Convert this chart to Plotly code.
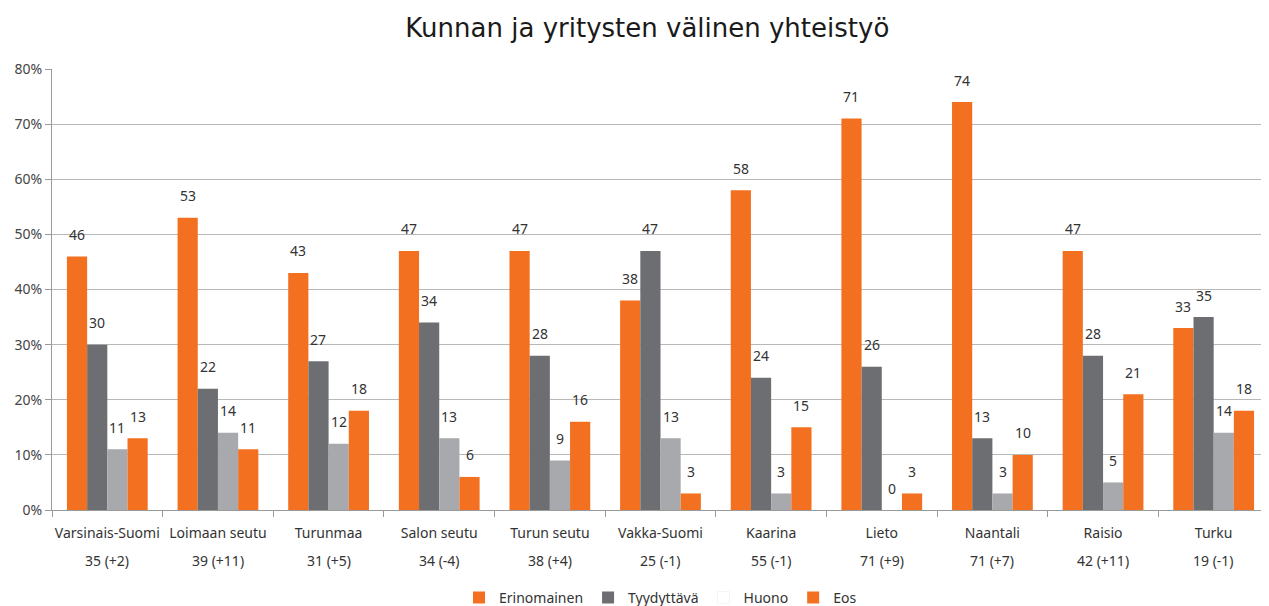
import plotly.graph_objects as go

categories = ["Varsinais-Suomi", "Loimaan seutu", "Turunmaa", "Salon seutu", "Turun seutu",
              "Vakka-Suomi", "Kaarina", "Lieto", "Naantali", "Raisio", "Turku"]
subtitles = ["35 (+2)", "39 (+11)", "31 (+5)", "34 (-4)", "38 (+4)", "25 (-1)",
             "55 (-1)", "71 (+9)", "71 (+7)", "42 (+11)", "19 (-1)"]
erinomainen = [46, 53, 43, 47, 47, 38, 58, 71, 74, 47, 33]
tyydyttava = [30, 22, 27, 34, 28, 47, 24, 26, 13, 28, 35]
huono = [11, 14, 12, 13, 9, 13, 3, 0, 3, 5, 14]
eos = [13, 11, 18, 6, 16, 3, 15, 3, 10, 21, 18]
y_ticks = [0, 10, 20, 30, 40, 50, 60, 70, 80]

ORANGE = "#F37021"
DARK = "#6D6E71"
LIGHT = "#A7A9AC"
FONT = "Noto Sans"

W, H = 1261, 598
ML, MR, MT, MB = 44, 0, 61, 96
BARGAP = 0.27

fig = go.Figure()
series = [("Erinomainen", erinomainen, ORANGE, True),
          ("Tyydyttävä", tyydyttava, DARK, True),
          ("Huono", huono, LIGHT, False),
          ("Eos", eos, ORANGE, True)]
n_series = len(series)
cat_px = (W - ML - MR) / len(categories)
bar_px = cat_px * (1 - BARGAP) / n_series

for i, (name, vals, col, sl) in enumerate(series):
    fig.add_trace(go.Bar(
        x=categories, y=vals, name=name, marker=dict(color=col, line=dict(width=0)),
        showlegend=sl, legendrank=i + 1, offsetgroup=str(i)))
    if not sl:
        fig.add_trace(go.Bar(x=[categories[0]], y=[None], name=name,
                             marker=dict(color="rgba(255,255,255,0)"),
                             showlegend=True, legendrank=i + 1, offsetgroup=str(i)))
    shift = (i - (n_series - 1) / 2) * bar_px
    for c, v in zip(categories, vals):
        fig.add_annotation(x=c, y=v, xref="x", yref="y", text=str(v), showarrow=False,
                           xshift=shift, yshift=22, yanchor="middle",
                           font=dict(family=FONT, size=14, color="#333333"))

for c, s in zip(categories, subtitles):
    fig.add_annotation(x=c, y=0, xref="x", yref="y", text=s, showarrow=False,
                       yshift=-50, font=dict(family=FONT, size=14, color="#333333"))

fig.update_layout(
    width=W, height=H,
    title=dict(text="Kunnan ja yritysten välinen yhteistyö", x=0.507, xanchor="center",
               y=0.967, yanchor="middle",
               font=dict(family="DejaVu Sans", size=26, color="#1a1a1a")),
    barmode="group", bargap=BARGAP, bargroupgap=0,
    plot_bgcolor="white", paper_bgcolor="white",
    margin=dict(l=ML, r=MR, t=MT, b=MB, autoexpand=False),
    legend=dict(orientation="h", x=0.5, xanchor="center", y=-0.163, yanchor="top",
                font=dict(family=FONT, size=14, color="#333333"), traceorder="normal",
                itemwidth=30),
    font=dict(family=FONT, size=14, color="#333333"),
)
fig.update_yaxes(range=[0, 80], tickvals=y_ticks, ticktext=[f"{v}%" for v in y_ticks],
                 showgrid=True, gridcolor="#B8B8B8", gridwidth=1, automargin=False,
                 showline=True, linecolor="#9A9A9A", ticks="outside", ticklen=6,
                 tickcolor="#9A9A9A", zeroline=False,
                 tickfont=dict(family=FONT, size=14, color="#444444"))
fig.update_xaxes(showline=True, linecolor="#9A9A9A", ticks="outside", ticklen=6,
                 tickcolor="#9A9A9A", tickson="boundaries", tickangle=0, automargin=False,
                 ticklabelstandoff=10,
                 tickfont=dict(family=FONT, size=14, color="#333333"))

fig.write_html("out.html")
